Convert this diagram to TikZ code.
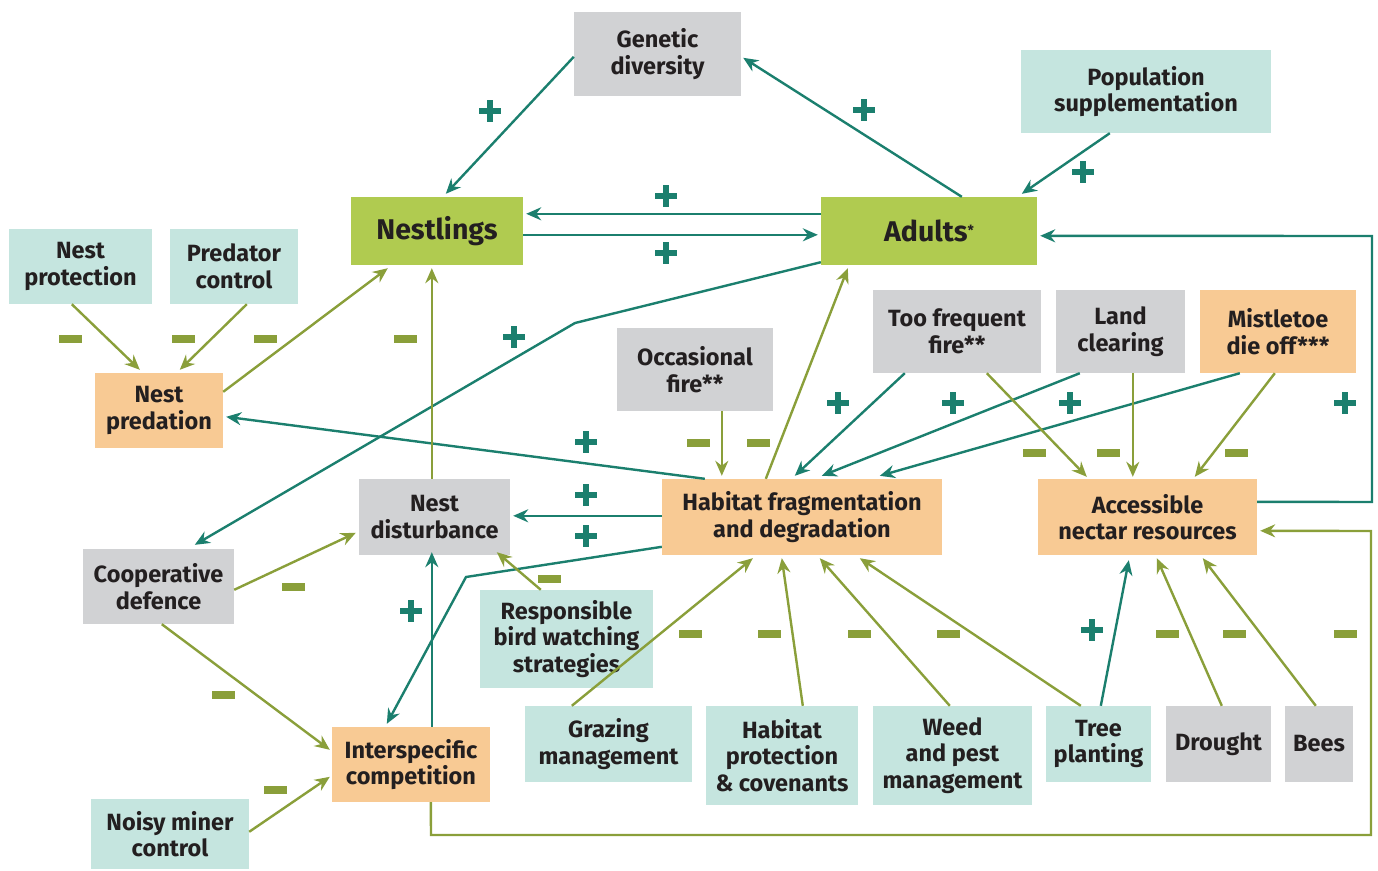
\documentclass[tikz,border=0pt]{standalone}
\usepackage{fontspec}
\setmainfont{Fira Sans}
\usetikzlibrary{arrows.meta,calc}
\definecolor{greenbox}{HTML}{B0CB50}
\definecolor{tealbox}{HTML}{C5E5DF}
\definecolor{graybox}{HTML}{D1D2D4}
\definecolor{orangebox}{HTML}{F8CA94}
\definecolor{tealline}{HTML}{1B7F6E}
\definecolor{oliveline}{HTML}{8A9F3A}
\definecolor{textc}{HTML}{231F20}
\tikzset{
  box/.style={rectangle, inner sep=0pt, align=center, text=textc,
    font=\fontsize{23.5}{26.5}\selectfont\bfseries},
  bigbox/.style={box, font=\fontsize{28.5}{32}\selectfont\bfseries},
  gbox/.style={fill=graybox},
  tbox/.style={fill=tealbox},
  obox/.style={fill=orangebox},
  lbox/.style={fill=greenbox},
  posarr/.style={draw=tealline, line width=2.4pt,
    -{Stealth[length=15pt,width=13pt,inset=5pt]}},
  negarr/.style={draw=oliveline, line width=2.4pt,
    -{Stealth[length=15pt,width=13pt,inset=5pt]}},
  pics/plusmark/.style={code={
    \fill[tealline] (-11,-3.2) rectangle (11,3.2);
    \fill[tealline] (-3.2,-11) rectangle (3.2,11);}},
  pics/minusmark/.style={code={
    \fill[oliveline] (-11.5,-3.6) rectangle (11.5,3.6);}}
}
\begin{document}
\begin{tikzpicture}[x=1pt,y=-1pt]
\useasboundingbox (0,0) rectangle (1378,870);
% nodes
\node[box,gbox,minimum width=167,minimum height=84] (gen) at (657.5,54) {Genetic\\diversity};
\node[box,tbox,minimum width=250,minimum height=83] (pop) at (1146,91.5) {Population\\supplementation};
\node[bigbox,lbox,minimum width=172,minimum height=68] (nestl) at (437,231) {Nestlings};
\node[bigbox,lbox,minimum width=216,minimum height=68] (adults) at (929,231) {Adults{\fontsize{14}{14}\selectfont\raisebox{6pt}{*}}};
\node[box,tbox,minimum width=143,minimum height=75] (nprot) at (80.5,266.5) {Nest\\protection};
\node[box,tbox,minimum width=128,minimum height=75] (pred) at (234,266.5) {Predator\\control};
\node[box,obox,minimum width=128,minimum height=75] (npred) at (159,410.5) {Nest\\predation};
\node[box,gbox,minimum width=168,minimum height=83] (tff) at (957,331.5) {Too frequent\\fire**};
\node[box,gbox,minimum width=129,minimum height=83] (land) at (1120.5,331.5) {Land\\clearing};
\node[box,obox,minimum width=156,minimum height=83] (mist) at (1278,331.5) {Mistletoe\\die off***};
\node[box,gbox,minimum width=156,minimum height=83] (occ) at (695,369.5) {Occasional\\fire**};
\node[box,obox,minimum width=280,minimum height=76] (hab) at (802,517) {Habitat fragmentation\\and degradation};
\node[box,obox,minimum width=219,minimum height=76] (nectar) at (1147.5,517) {Accessible\\nectar resources};
\node[box,gbox,minimum width=151,minimum height=76] (ndist) at (434.5,517) {Nest\\disturbance};
\node[box,gbox,minimum width=151,minimum height=75] (coop) at (158.5,586.5) {Cooperative\\defence};
\node[box,tbox,minimum width=173,minimum height=98] (resp) at (566.5,639) {Responsible\\bird watching\\strategies};
\node[box,tbox,minimum width=167,minimum height=76] (graz) at (608.5,744) {Grazing\\management};
\node[box,tbox,minimum width=152,minimum height=99] (hprot) at (782,755.5) {Habitat\\protection\\\& covenants};
\node[box,tbox,minimum width=159,minimum height=99] (weed) at (952.5,755.5) {Weed\\and pest\\management};
\node[box,tbox,minimum width=105,minimum height=76] (tree) at (1098.5,744) {Tree\\planting};
\node[box,gbox,minimum width=105,minimum height=76] (drought) at (1218.5,744) {Drought};
\node[box,gbox,minimum width=68,minimum height=76] (bees) at (1319,744) {Bees};
\node[box,obox,minimum width=158,minimum height=75] (inter) at (411,764.5) {Interspecific\\competition};
\node[box,tbox,minimum width=158,minimum height=70] (noisy) at (170,834) {Noisy miner\\control};
% bend coordinates
\coordinate (b1) at (575,323);
\coordinate (r1) at (1372,502);
\coordinate (r2) at (1372,236);
\coordinate (q1) at (431,835);
\coordinate (q2) at (1371,835);
\coordinate (q3) at (1371,531);
\coordinate (h1) at (466,577);
% connectors
\draw[posarr] ($(gen.north west)+(0,45)$) -- ($(nestl.north west)+(95,-3)$);
\draw[posarr] ($(adults.north west)+(141,0)$) -- ($(gen.north east)+(2,46)$);
\draw[posarr] ($(pop.south west)+(89,0)$) -- ($(adults.north west)+(201,-3)$);
\draw[posarr] ($(adults.north west)+(0,17)$) -- ($(nestl.north east)+(3,17)$);
\draw[posarr] ($(nestl.north east)+(0,38)$) -- ($(adults.north west)+(-3,38)$);
\draw[posarr] ($(adults.south west)+(0,-3)$) -- (b1) -- ($(coop.north west)+(112,-4)$);
\draw[negarr] ($(nprot.south west)+(63,0)$) -- ($(npred.north west)+(45,-3)$);
\draw[negarr] ($(pred.south west)+(77,0)$) -- ($(npred.north west)+(85,-3)$);
\draw[negarr] ($(npred.north east)+(0,19)$) -- ($(nestl.south west)+(37,3)$);
\draw[posarr] ($(hab.north west)+(43,0)$) -- ($(npred.north east)+(3,44)$);
\draw[negarr] ($(ndist.north west)+(73,0)$) -- ($(nestl.south west)+(81,3)$);
\draw[negarr] ($(hab.north west)+(104,0)$) -- ($(adults.south west)+(27,3)$);
\draw[negarr] ($(occ.south west)+(105,0)$) -- ($(hab.north west)+(60,-3)$);
\draw[posarr] ($(tff.south west)+(32,0)$) -- ($(hab.north west)+(133,-3)$);
\draw[posarr] ($(land.south west)+(24,0)$) -- ($(hab.north west)+(160,-3)$);
\draw[posarr] ($(mist.south west)+(40,0)$) -- ($(hab.north west)+(218,-3)$);
\draw[negarr] ($(tff.south west)+(114,0)$) -- ($(nectar.north west)+(49,-2)$);
\draw[negarr] ($(land.south west)+(77,0)$) -- ($(nectar.north west)+(95,-2)$);
\draw[negarr] ($(mist.south west)+(75,0)$) -- ($(nectar.north west)+(157,-2)$);
\draw[posarr] ($(nectar.north east)+(0,23)$) -- (r1) -- (r2) -- ($(adults.north east)+(3,39)$);
\draw[negarr] ($(inter.south west)+(99,0)$) -- (q1) -- (q2) -- (q3) -- ($(nectar.north east)+(3,52)$);
\draw[posarr] ($(hab.north west)+(0,37)$) -- ($(ndist.north east)+(3,37)$);
\draw[posarr] ($(hab.north west)+(0,68)$) -- (h1) -- ($(inter.north west)+(55,-3)$);
\draw[posarr] ($(inter.north west)+(100,0)$) -- ($(ndist.south west)+(73,-3)$);
\draw[negarr] ($(resp.north west)+(61,0)$) -- ($(ndist.south west)+(138,-3)$);
\draw[negarr] ($(coop.north east)+(0,41)$) -- ($(ndist.north west)+(-3,54)$);
\draw[negarr] ($(coop.south west)+(79,0)$) -- ($(inter.north west)+(-2,23)$);
\draw[negarr] ($(noisy.north east)+(0,33)$) -- ($(inter.north west)+(-2,50)$);
\draw[negarr] ($(graz.north west)+(47,0)$) -- ($(hab.south west)+(91,3)$);
\draw[negarr] ($(hprot.north west)+(97,0)$) -- ($(hab.south west)+(120,3)$);
\draw[negarr] ($(weed.north west)+(77,0)$) -- ($(hab.south west)+(158,3)$);
\draw[negarr] ($(tree.north west)+(35,0)$) -- ($(hab.south west)+(198,3)$);
\draw[posarr] ($(tree.north west)+(55,0)$) -- ($(nectar.south west)+(91,5)$);
\draw[negarr] ($(drought.north west)+(56,0)$) -- ($(nectar.south west)+(119,3)$);
\draw[negarr] ($(bees.north west)+(31,0)$) -- ($(nectar.south west)+(165,3)$);
% signs
\foreach \p in {(490,111),(864,110),(1083,172),(666,196),(666,253),(514,337),(586,442),(838,403),(953,403),(1070,403),(1345,403),(586,495),(586,536),(411,611),(1092,630)}
  \pic at \p {plusmark};
\foreach \p in {(70,339),(183,339),(265,339),(405,339),(698,443),(758,443),(1034,453),(1108,453),(1236,453),(549,579),(293,587),(223,695),(275,790),(690,634),(769,634),(859,634),(948,634),(1167,634),(1234,634),(1345,634)}
  \pic at \p {minusmark};
\end{tikzpicture}
\end{document}
